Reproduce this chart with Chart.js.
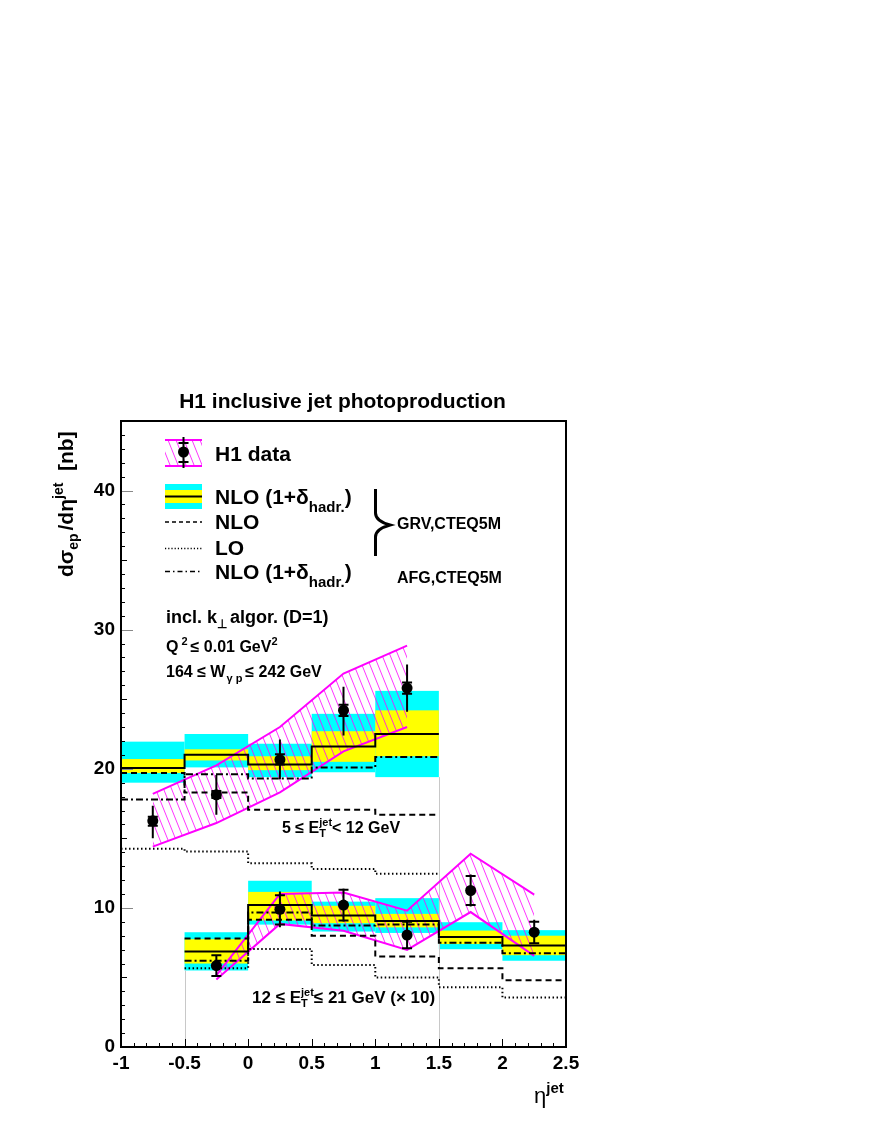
<!DOCTYPE html>
<html lang="en">
<head>
<meta charset="UTF-8">
<title>H1 inclusive jet photoproduction</title>
<script src="https://cdn.jsdelivr.net/npm/chart.js"></script>
<style>
  body { margin: 0; background: #fff; }
  #wrap { width: 872px; height: 1128px; position: relative; }
</style>
</head>
<body>
<div id="wrap"><canvas id="jetChart" width="872" height="1128"></canvas></div>
<script>
// eta bins
const edgesLowEt = [-1, -0.5, 0, 0.5, 1, 1.5];
const edgesHighEt = [-0.5, 0, 0.5, 1, 1.5, 2, 2.5];
const etaLowEt = [-0.75, -0.25, 0.25, 0.75, 1.25];
const etaHighEt = [-0.25, 0.25, 0.75, 1.25, 1.75, 2.25];

// 5 <= Et < 12 GeV
const dataLowEt = [16.26, 18.13, 20.65, 24.2, 25.8];
const statLoLowEt = [15.9, 17.9, 20.3, 23.8, 25.4];
const statHiLowEt = [16.55, 18.4, 21.05, 24.6, 26.2];
const totLoLowEt = [15.0, 16.7, 19.25, 22.4, 24.1];
const totHiLowEt = [17.35, 19.55, 22.1, 25.9, 27.5];
const hatchHiLowEt = [18.2, 20.25, 23.0, 26.85, 28.85];
const hatchLoLowEt = [14.4, 16.1, 18.3, 21.25, 23.0];
const nloHadLowEt = [20.05, 21.0, 20.3, 21.6, 22.5];
const cyanLoLowEt = [19.0, 20.1, 19.4, 19.75, 19.4];
const cyanHiLowEt = [21.95, 22.5, 21.8, 23.95, 25.6];
const yellowLoLowEt = [19.7, 20.6, 19.9, 20.5, 20.9];
const yellowHiLowEt = [20.7, 21.4, 20.9, 22.7, 24.2];
const nloLowEt = [19.7, 18.3, 17.05, 17.05, 16.7];
const loLowEt = [14.25, 14.05, 13.2, 12.8, 12.45];
const afgLowEt = [17.8, 19.6, 19.3, 20.1, 20.85];

// 12 <= Et <= 21 GeV (x10)
const dataHighEt = [5.85, 9.9, 10.2, 8.05, 11.25, 8.25];
const statLoHighEt = [5.1, 8.8, 9.1, 7.1, 10.2, 7.45];
const statHiHighEt = [6.6, 10.9, 11.3, 9.0, 12.3, 9.0];
const totLoHighEt = [5.06, 8.6, 9.0, 7.03, 10.1, 7.4];
const totHiHighEt = [6.67, 11.17, 11.4, 9.14, 12.4, 9.14];
const hatchHiHighEt = [5.15, 11.0, 11.1, 9.8, 13.9, 10.95];
const hatchLoHighEt = [4.85, 8.85, 8.35, 6.98, 9.7, 6.55];
const nloHadHighEt = [6.86, 10.2, 9.45, 9.05, 7.9, 7.3];
const cyanLoHighEt = [5.5, 8.8, 8.3, 8.2, 7.03, 6.2];
const cyanHiHighEt = [8.25, 11.95, 10.45, 10.7, 8.97, 8.4];
const yellowLoHighEt = [6.0, 9.1, 8.9, 8.6, 7.4, 6.6];
const yellowHiHighEt = [7.75, 11.15, 10.15, 9.57, 8.37, 8.0];
const nloHighEt = [7.8, 9.14, 7.99, 6.5, 5.66, 4.8];
const loHighEt = [5.66, 7.05, 5.9, 5.0, 4.3, 3.55];
const afgHighEt = [6.2, 9.66, 8.73, 8.8, 7.5, 6.74];

const xTickLabels = ['-1', '-0.5', '0', '0.5', '1', '1.5', '2', '2.5'];
const yTickLabels = ['0', '10', '20', '30', '40'];

const FONT = '"Liberation Sans", Arial, Helvetica, sans-serif';
const MAGENTA = '#ff00ff';
const DASH = [6, 4], DOT = [1.5, 2.5], DASHDOT = [7, 3, 2, 3];

function steps(edges, vals) {
    const pts = vals.map((v, i) => ({ x: edges[i], y: v }));
    pts.push({ x: edges[vals.length], y: vals[vals.length - 1] });
    return pts;
}
function points(eta, vals) {
    return eta.map((x, i) => ({ x: x, y: vals[i] }));
}

function makeHatch() {
    const c = document.createElement('canvas');
    c.width = 8; c.height = 20;
    const g = c.getContext('2d');
    g.strokeStyle = MAGENTA;
    g.lineWidth = 0.8;
    g.beginPath();
    for (const dx of [-8, 0, 8]) { g.moveTo(dx, 0); g.lineTo(dx + 8, 20); }
    g.stroke();
    return g.createPattern(c, 'repeat');
}
const hatch = makeHatch();

function stepSet(edges, vals, dash) {
    return { data: steps(edges, vals), stepped: 'before', borderColor: '#000', borderWidth: 2,
             borderDash: dash, pointRadius: 0, fill: false };
}
function markerSet(eta, vals) {
    return { data: points(eta, vals), showLine: false, pointRadius: 5.5,
             pointBackgroundColor: '#000', pointBorderColor: '#000', pointBorderWidth: 0 };
}
function hatchSet(eta, vals, fill) {
    return { data: points(eta, vals), borderColor: MAGENTA, borderWidth: 2, pointRadius: 0,
             tension: 0, fill: fill, backgroundColor: hatch };
}

// bands, errors, frame, ticks and text
function rich(ctx, x, y, parts) {
    let keepW = 0;
    for (const p of parts) {
        ctx.font = (p.w || 'bold') + ' ' + p.s + 'px ' + FONT;
        ctx.fillText(p.t, x, y + (p.dy || 0));
        const w = ctx.measureText(p.t).width;
        if (p.keep) { keepW = w; continue; }
        x += Math.max(w, keepW) + (p.gap || 0);
        keepW = 0;
    }
    return x;
}

const decor = {
    id: 'decor',
    beforeDatasetsDraw(chart) {
        const ctx = chart.ctx, sx = chart.scales.x, sy = chart.scales.y;
        ctx.save();
        const band = (edges, lo, hi, color) => {
            ctx.fillStyle = color;
            for (let i = 0; i < lo.length; i++) {
                const x0 = sx.getPixelForValue(edges[i]), x1 = sx.getPixelForValue(edges[i + 1]);
                const y0 = sy.getPixelForValue(hi[i]), y1 = sy.getPixelForValue(lo[i]);
                ctx.fillRect(x0, y0, x1 - x0, y1 - y0);
            }
        };
        band(edgesLowEt, cyanLoLowEt, cyanHiLowEt, '#00ffff');
        band(edgesLowEt, yellowLoLowEt, yellowHiLowEt, '#ffff00');
        band(edgesHighEt, cyanLoHighEt, cyanHiHighEt, '#00ffff');
        band(edgesHighEt, yellowLoHighEt, yellowHiHighEt, '#ffff00');
        // thin edge lines of the band histograms down to zero
        ctx.strokeStyle = '#c8c8c8';
        ctx.lineWidth = 1;
        ctx.beginPath();
        let x = Math.round(sx.getPixelForValue(edgesHighEt[0])) + 0.5;
        ctx.moveTo(x, sy.getPixelForValue(0)); ctx.lineTo(x, sy.getPixelForValue(cyanLoHighEt[0]));
        x = Math.round(sx.getPixelForValue(edgesLowEt[edgesLowEt.length - 1])) + 0.5;
        ctx.moveTo(x, sy.getPixelForValue(0)); ctx.lineTo(x, sy.getPixelForValue(cyanLoLowEt[cyanLoLowEt.length - 1]));
        ctx.stroke();
        ctx.restore();
    },
    afterDatasetsDraw(chart) {
        const ctx = chart.ctx, sx = chart.scales.x, sy = chart.scales.y;
        ctx.save();
        ctx.strokeStyle = '#000';
        ctx.lineWidth = 2;
        const errs = (eta, tLo, tHi, sLo, sHi) => {
            ctx.beginPath();
            for (let i = 0; i < eta.length; i++) {
                const x = sx.getPixelForValue(eta[i]);
                ctx.moveTo(x, sy.getPixelForValue(tLo[i])); ctx.lineTo(x, sy.getPixelForValue(tHi[i]));
                for (const s of [sLo[i], sHi[i]]) {
                    const y = sy.getPixelForValue(s);
                    ctx.moveTo(x - 5, y); ctx.lineTo(x + 5, y);
                }
            }
            ctx.stroke();
        };
        errs(etaLowEt, totLoLowEt, totHiLowEt, statLoLowEt, statHiLowEt);
        errs(etaHighEt, totLoHighEt, totHiHighEt, statLoHighEt, statHiHighEt);
        ctx.restore();
    },
    afterDraw(chart) {
        const ctx = chart.ctx, a = chart.chartArea, sx = chart.scales.x, sy = chart.scales.y;
        ctx.save();
        // ticks pointing inwards
        ctx.lineWidth = 1;
        for (let i = -9; i < 25; i++) {
            const x = Math.round(sx.getPixelForValue(i / 10)) + 0.5;
            const len = (i % 5 === 0) ? 8 : 4;
            ctx.strokeStyle = '#000';
            ctx.beginPath(); ctx.moveTo(x, a.bottom); ctx.lineTo(x, a.bottom - len); ctx.stroke();
        }
        for (let v = 1; v < 45; v++) {
            const y = Math.round(sy.getPixelForValue(v)) + 0.5;
            const len = (v % 10 === 0) ? 12 : (v % 5 === 0 ? 6 : 4);
            ctx.strokeStyle = (v % 10 === 0) ? '#888' : '#000';
            ctx.beginPath(); ctx.moveTo(a.left, y); ctx.lineTo(a.left + len, y); ctx.stroke();
        }
        // frame
        ctx.strokeStyle = '#000';
        ctx.lineWidth = 2;
        ctx.strokeRect(a.left, a.top, a.right - a.left, a.bottom - a.top);

        ctx.fillStyle = '#000';
        ctx.textBaseline = 'alphabetic';
        // title
        ctx.textAlign = 'center';
        ctx.font = 'bold 21px ' + FONT;
        ctx.fillText('H1 inclusive jet photoproduction', (a.left + a.right) / 2 - 1, 408);
        ctx.textAlign = 'left';

        // y axis title
        ctx.save();
        ctx.translate(73, 577);
        ctx.rotate(-Math.PI / 2);
        rich(ctx, 0, 0, [
            { t: 'd', s: 21 }, { t: 'σ', s: 21 }, { t: 'ep', s: 14, dy: 5, gap: 3 },
            { t: '/d', s: 21 }, { t: 'η', s: 21 }, { t: 'jet', s: 14, dy: -10 }, { t: '  [nb]', s: 21 }
        ]);
        ctx.restore();
        // x axis title
        rich(ctx, 534, 1103, [{ t: 'η', s: 22, w: 'normal' }, { t: 'jet', s: 15, dy: -10 }]);

        // legend: H1 data
        const lx0 = 165, lx1 = 202;
        ctx.fillStyle = hatch;
        ctx.fillRect(lx0, 440, lx1 - lx0, 26);
        ctx.strokeStyle = MAGENTA; ctx.lineWidth = 2;
        ctx.beginPath(); ctx.moveTo(lx0, 440); ctx.lineTo(lx1, 440); ctx.moveTo(lx0, 466); ctx.lineTo(lx1, 466); ctx.stroke();
        ctx.strokeStyle = '#000';
        ctx.beginPath();
        ctx.moveTo(183.5, 437); ctx.lineTo(183.5, 468);
        ctx.moveTo(178.5, 443); ctx.lineTo(188.5, 443);
        ctx.moveTo(178.5, 462); ctx.lineTo(188.5, 462);
        ctx.stroke();
        ctx.fillStyle = '#000';
        ctx.beginPath(); ctx.arc(183.5, 452, 5.5, 0, Math.PI * 2); ctx.fill();
        rich(ctx, 215, 461, [{ t: 'H1 data', s: 21 }]);

        // legend: NLO bands
        ctx.fillStyle = '#00ffff'; ctx.fillRect(lx0, 484, lx1 - lx0, 25);
        ctx.fillStyle = '#ffff00'; ctx.fillRect(lx0, 490, lx1 - lx0, 13);
        ctx.strokeStyle = '#000'; ctx.lineWidth = 2;
        ctx.beginPath(); ctx.moveTo(lx0, 496.5); ctx.lineTo(lx1, 496.5); ctx.stroke();
        ctx.fillStyle = '#000';
        const nloHad = [{ t: 'NLO (1+δ', s: 21 }, { t: 'hadr.', s: 15, dy: 8 }, { t: ')', s: 21 }];
        rich(ctx, 215, 504, nloHad);
        const legLine = (y, dash) => {
            ctx.setLineDash(dash); ctx.lineWidth = 1.5;
            ctx.beginPath(); ctx.moveTo(lx0, y); ctx.lineTo(lx1, y); ctx.stroke();
            ctx.setLineDash([]);
        };
        legLine(522, [4, 3]);
        rich(ctx, 215, 529, [{ t: 'NLO', s: 21 }]);
        legLine(548.5, [1.2, 2]);
        rich(ctx, 215, 555, [{ t: 'LO', s: 21 }]);
        legLine(571.5, [5, 3, 1.5, 3]);
        rich(ctx, 215, 579, nloHad);

        // brace
        ctx.lineWidth = 3;
        ctx.beginPath();
        ctx.moveTo(375.5, 489);
        ctx.lineTo(375.5, 513);
        ctx.quadraticCurveTo(375.5, 521, 390, 525);
        ctx.quadraticCurveTo(375.5, 529, 375.5, 537);
        ctx.lineTo(375.5, 556);
        ctx.stroke();
        rich(ctx, 397, 529, [{ t: 'GRV,CTEQ5M', s: 16 }]);
        rich(ctx, 397, 583, [{ t: 'AFG,CTEQ5M', s: 16 }]);

        // cuts
        rich(ctx, 166, 623, [{ t: 'incl. k', s: 18 }, { t: '⊥', s: 12, dy: 5, gap: 3 }, { t: 'algor. (D=1)', s: 18 }]);
        rich(ctx, 166, 652, [{ t: 'Q', s: 16, gap: 3 }, { t: '2', s: 11, dy: -7, gap: 3 }, { t: '≤ 0.01 GeV', s: 16 }, { t: '2', s: 11, dy: -7 }]);
        rich(ctx, 166, 677, [{ t: '164 ≤ W', s: 16, gap: 1 }, { t: 'γ p', s: 11, dy: 5, gap: 3 }, { t: '≤ 242 GeV', s: 16 }]);

        // bin labels
        rich(ctx, 282, 833, [{ t: '5 ≤ E', s: 16 }, { t: 'jet', s: 11, dy: -7, keep: true }, { t: 'T', s: 11, dy: 4 }, { t: '< 12 GeV', s: 16 }]);
        rich(ctx, 252, 1003, [{ t: '12 ≤ E', s: 17 }, { t: 'jet', s: 11, dy: -7, keep: true }, { t: 'T', s: 11, dy: 4 }, { t: '≤ 21 GeV (× 10)', s: 17 }]);
        ctx.restore();
    }
};

new Chart(document.getElementById('jetChart'), {
    type: 'line',
    data: {
        datasets: [
            markerSet(etaLowEt, dataLowEt),
            markerSet(etaHighEt, dataHighEt),
            stepSet(edgesLowEt, nloHadLowEt, []),
            stepSet(edgesHighEt, nloHadHighEt, []),
            stepSet(edgesLowEt, nloLowEt, DASH),
            stepSet(edgesHighEt, nloHighEt, DASH),
            stepSet(edgesLowEt, loLowEt, DOT),
            stepSet(edgesHighEt, loHighEt, DOT),
            stepSet(edgesLowEt, afgLowEt, DASHDOT),
            stepSet(edgesHighEt, afgHighEt, DASHDOT),
            hatchSet(etaLowEt, hatchHiLowEt, '+1'),
            hatchSet(etaLowEt, hatchLoLowEt, false),
            hatchSet(etaHighEt, hatchHiHighEt, '+1'),
            hatchSet(etaHighEt, hatchLoHighEt, false)
        ]
    },
    options: {
        responsive: false,
        animation: false,
        layout: { padding: { left: 0, top: 421, right: 306, bottom: 0 } },
        plugins: { legend: { display: false }, tooltip: { enabled: false } },
        scales: {
            x: {
                type: 'linear', min: -1, max: 2.5,
                grid: { display: false, drawTicks: false }, border: { display: false },
                ticks: {
                    stepSize: 0.5, autoSkip: false, maxRotation: 0, padding: 5, color: '#000',
                    font: { family: FONT, weight: 'bold', size: 19 },
                    callback: (v, i) => xTickLabels[i]
                },
                afterFit: s => { s.height = 81; }
            },
            y: {
                type: 'linear', min: 0, max: 45,
                grid: { display: false, drawTicks: false }, border: { display: false },
                ticks: {
                    stepSize: 10, padding: 6, color: '#000',
                    font: { family: FONT, weight: 'bold', size: 19 },
                    callback: (v, i) => yTickLabels[i]
                },
                afterBuildTicks: s => { s.ticks = s.ticks.filter(t => t.value % 10 === 0); },
                afterFit: s => { s.width = 121; }
            }
        }
    },
    plugins: [decor]
});
</script>
</body>
</html>
